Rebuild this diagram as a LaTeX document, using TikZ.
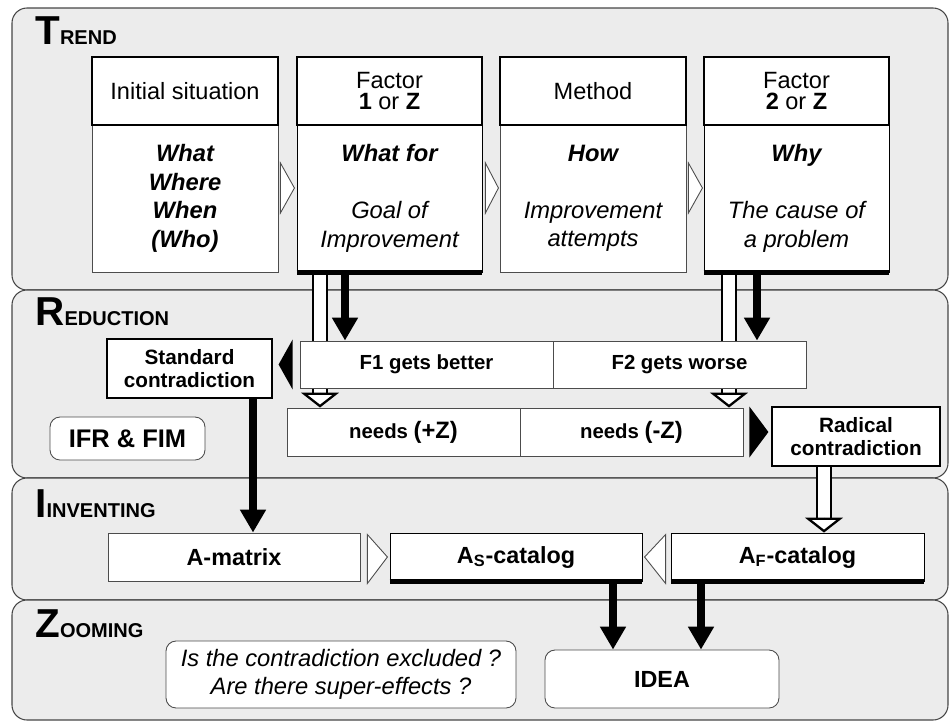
\documentclass[tikz,border=0pt]{standalone}
\usepackage{fontspec}
\setmainfont{Liberation Sans}
\usepackage{tikz}
\usetikzlibrary{arrows.meta,calc}

\newcommand{\phase}[2]{{\fontsize{23}{23}\selectfont\bfseries #1}{\fontsize{11.4}{12}\selectfont\bfseries #2}}

\begin{document}
\begin{tikzpicture}[x=0.02cm, y=-0.02cm]
	\tikzstyle{Panel}	= [draw=gray!55!black, fill=gray!15, rounded corners=0.3cm, line width=0.6pt]
	\tikzstyle{Title}	= [anchor=base west, inner sep=0pt]
	\tikzstyle{Head}	= [draw, line width=1.4pt, fill=white, inner sep=0pt, minimum height=1.36cm, align=center, font=\fontsize{13.4}{12.5}\selectfont]
	\tikzstyle{Body}	= [draw=gray!60!black, line width=0.5pt, fill=white, inner sep=0pt, minimum height=2.94cm, align=center, font=\fontsize{13.5}{16.2}\selectfont\itshape]
	\tikzstyle{Marked}	= [draw=black]
	\tikzstyle{Plain}	= [draw=gray!60!black, line width=0.5pt, fill=white, inner sep=0pt, align=center, font=\fontsize{11.6}{13}\selectfont\bfseries]
	\tikzstyle{Strong}	= [draw, line width=1.4pt, fill=white, inner sep=0pt, align=center, font=\fontsize{11.8}{13.5}\selectfont\bfseries]
	\tikzstyle{Round}	= [Plain, rounded corners=0.2cm]
	\tikzstyle{Shadow}	= [line width=2.8pt]
	\tikzstyle{Go}		= [line width=5pt, -{Triangle[width=14pt,length=13pt]}]
	\tikzstyle{Hollow}	= [line width=1.4pt, double=white, double distance=6.4pt]
	\tikzstyle{HollowTip}	= [line width=1.3pt, -{Triangle[width=21.5pt,length=8.5pt,fill=white]}]
	\tikzstyle{Chevron}	= [draw=gray!60!black, fill=white, line width=0.5pt]

	\useasboundingbox (0,0) rectangle (950,724);

	% stages
	\draw [Panel] (12,8) rectangle (948,290);
	\draw [Panel] (12,290) rectangle (948,478);
	\draw [Panel] (12,478) rectangle (948,600);
	\draw [Panel] (12,600) rectangle (948,720);

	\node (trend) at (35,44) [Title] {\phase{T}{REND}};
	\node (reduc) at (35,325) [Title] {\phase{R}{EDUCTION}};
	\node (inven) at (35,517) [Title] {\phase{I}{INVENTING}};
	\node (zoomi) at (35,637) [Title] {\phase{Z}{OOMING}};

	% trend row
	\node (b1) at (185,198.5) [Body, minimum width=3.72cm] {\textbf{What}\\\textbf{Where}\\\textbf{When}\\\textbf{(Who)}};
	\node (b2) at (389.5,198.5) [Body, Marked, minimum width=3.7cm] {\textbf{What for}\\[16.2pt]Goal of\\Improvement};
	\node (b3) at (593,198.5) [Body, minimum width=3.72cm] {\textbf{How}\\[16.2pt]Improvement\\attempts};
	\node (b4) at (796.5,198.5) [Body, Marked, minimum width=3.7cm] {\textbf{Why}\\[16.2pt]The cause of\\a problem};
	\node (h1) at (185,91) [Head, minimum width=3.72cm] {Initial situation};
	\node (h2) at (389.5,91) [Head, minimum width=3.7cm] {Factor\\\textbf{1} or \textbf{Z}};
	\node (h3) at (593,91) [Head, minimum width=3.72cm] {Method};
	\node (h4) at (796.5,91) [Head, minimum width=3.7cm] {Factor\\\textbf{2} or \textbf{Z}};

	\draw [Chevron] ($(b1.east)+(2,-35.5)$) -- ($(b1.east)+(16,-10.5)$) -- ($(b1.east)+(2,14.5)$) -- cycle;
	\draw [Chevron] ($(b2.east)+(3,-35.5)$) -- ($(b2.east)+(16,-10.5)$) -- ($(b2.east)+(3,14.5)$) -- cycle;
	\draw [Chevron] ($(b3.east)+(2,-35.5)$) -- ($(b3.east)+(16,-10.5)$) -- ($(b3.east)+(2,14.5)$) -- cycle;

	% reduction row
	\node (n1) at (403.5,432) [Plain, minimum width=4.66cm, minimum height=0.96cm] {needs {\fontsize{13.5}{14}\selectfont(+Z)}};
	\node (n2) at (631.5,432) [Plain, minimum width=4.46cm, minimum height=0.96cm] {needs {\fontsize{13.5}{14}\selectfont(-Z)}};
	\node (std) at (189.5,368.5) [Strong, minimum width=3.3cm, minimum height=1.18cm] {Standard\\contradiction};
	\node (rad) at (856,436.5) [Strong, minimum width=3.36cm, minimum height=1.18cm] {Radical\\contradiction};
	\node (ifr) at (127.5,438.5) [Round, minimum width=3.1cm, minimum height=0.86cm, font=\fontsize{14.5}{15}\selectfont\bfseries] {IFR \& FIM};

	% inventing row
	\node (amat) at (234,557) [Plain, minimum width=5.04cm, minimum height=0.96cm, font=\fontsize{13.3}{14}\selectfont\bfseries] {A-matrix};
	\node (ascat) at (516,557) [Plain, Marked, minimum width=5.04cm, minimum height=0.96cm, font=\fontsize{13.3}{14}\selectfont\bfseries] {A\textsubscript{S}-catalog};
	\node (afcat) at (797.5,557) [Plain, Marked, minimum width=5.06cm, minimum height=0.96cm, font=\fontsize{13.3}{14}\selectfont\bfseries] {A\textsubscript{F}-catalog};

	\draw [Chevron] ($(amat.north east)+(7,2)$) -- ($(amat.east)+(27,0)$) -- ($(amat.south east)+(7,2)$) -- cycle;
	\draw [Chevron] ($(afcat.north west)+(-5,2)$) -- ($(afcat.west)+(-26,0)$) -- ($(afcat.south west)+(-5,2)$) -- cycle;

	% zooming row
	\node (quest) at (341,674.5) [Round, minimum width=7cm, minimum height=1.34cm, font=\fontsize{13.5}{16}\selectfont\itshape] {Is the contradiction excluded ?\\Are there super-effects ?};
	\node (idea) at (662,679) [Round, minimum width=4.68cm, minimum height=1.16cm, font=\fontsize{13.3}{14}\selectfont\bfseries] {IDEA};

	% arrows
	\coordinate (x1h) at (320,0);
	\coordinate (x1b) at (345,0);
	\coordinate (x2h) at (729,0);
	\coordinate (x2b) at (757,0);
	\coordinate (xs) at (253,0);
	\coordinate (xr) at (824,0);
	\coordinate (xa) at (613,0);
	\coordinate (xf) at (701,0);

	\draw [Hollow] (b2.south -| x1h) to ($(n1.north -| x1h)+(0,-14)$);
	\draw [HollowTip] ($(n1.north -| x1h)+(0,-15)$) to (n1.north -| x1h);
	\draw [Hollow] (b4.south -| x2h) to ($(n2.north -| x2h)+(0,-14)$);
	\draw [HollowTip] ($(n2.north -| x2h)+(0,-15)$) to (n2.north -| x2h);
	\draw [Hollow] (rad.south -| xr) to ($(afcat.north -| xr)+(0,-14)$);
	\draw [HollowTip] ($(afcat.north -| xr)+(0,-15)$) to (afcat.north -| xr);

	\node (f1) at (426.5,364.5) [Plain, minimum width=5.06cm, minimum height=0.94cm] {F1 gets better};
	\node (f2) at (679.5,364.5) [Plain, minimum width=5.06cm, minimum height=0.94cm] {F2 gets worse};

	\draw [Shadow] (b2.south west) to (b2.south east);
	\draw [Shadow] (b4.south west) to (b4.south east);
	\draw [Shadow] (ascat.south west) to (ascat.south east);
	\draw [Shadow] (afcat.south west) to (afcat.south east);

	\draw [Go] (b2.south -| x1b) to (f1.north -| x1b);
	\draw [Go] (b4.south -| x2b) to (f2.north -| x2b);
	\draw [Go] (std.south -| xs) to (amat.north -| xs);
	\draw [Go] (ascat.south -| xa) to (idea.north -| xa);
	\draw [Go] (afcat.south -| xf) to (idea.north -| xf);

	\fill ($(f1.north west)+(-7,-1)$) -- ($(f1.west)+(-21,0)$) -- ($(f1.south west)+(-7,1)$) -- cycle;
	\fill ($(n2.north east)+(6,-1)$) -- ($(n2.east)+(25,0)$) -- ($(n2.south east)+(6,1)$) -- cycle;
\end{tikzpicture}
\end{document}
